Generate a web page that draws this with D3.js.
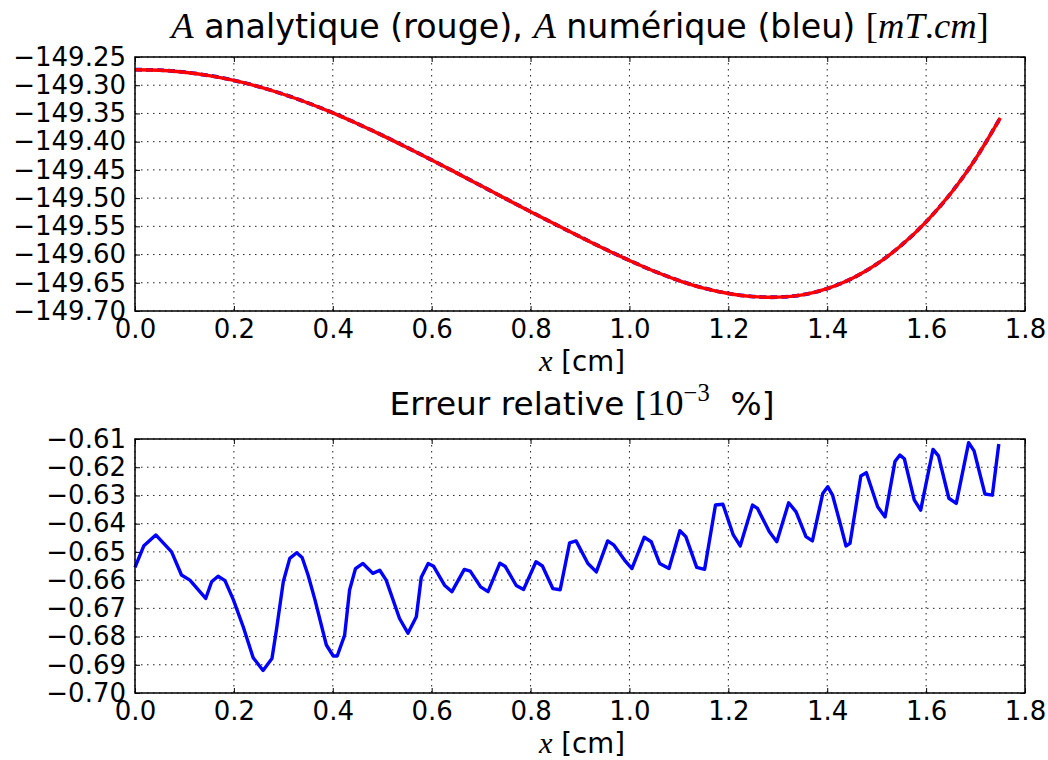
<!DOCTYPE html>
<html><head><meta charset="utf-8">
<script src="https://cdn.jsdelivr.net/npm/d3@7"></script>
<style>
body{margin:0;background:#fff}
svg{display:block}
text{font-family:"DejaVu Sans",sans-serif;fill:#000}
.m{font-family:"Liberation Serif","DejaVu Serif",serif}
.mi{font-family:"Liberation Serif","DejaVu Serif",serif;font-style:italic}
</style>
</head><body>
<svg id="c" width="1048" height="760"></svg>
<script>
// ---------- data ----------
const xTicks = [0.0,0.2,0.4,0.6,0.8,1.0,1.2,1.4,1.6,1.8];
const topYTicks = [-149.70,-149.65,-149.60,-149.55,-149.50,-149.45,-149.40,-149.35,-149.30,-149.25];
const botYTicks = [-0.70,-0.69,-0.68,-0.67,-0.66,-0.65,-0.64,-0.63,-0.62,-0.61];

// A(x) [mT.cm], analytic (red) and numeric (blue) coincide visually
const potX = [0.00,0.05,0.10,0.15,0.20,0.25,0.30,0.35,0.40,0.45,0.50,0.55,0.60,0.65,0.70,0.75,0.80,0.85,0.90,0.95,
              1.00,1.05,1.10,1.15,1.20,1.25,1.30,1.35,1.40,1.45,1.50,1.55,1.60,1.65,1.70,1.75];
const potAnalytic = [-149.2725,-149.2735,-149.2770,-149.2830,-149.2915,-149.3025,-149.3160,-149.3315,-149.3490,-149.3683,
              -149.3888,-149.4103,-149.4325,-149.4553,-149.4783,-149.5013,-149.5240,-149.5465,-149.5685,-149.5900,
              -149.6105,-149.6295,-149.6460,-149.6595,-149.6690,-149.6745,-149.6755,-149.6715,-149.6605,-149.6425,
              -149.6170,-149.5835,-149.5420,-149.4915,-149.4305,-149.3580];
const potNumeric = [-149.2724,-149.2734,-149.2769,-149.2829,-149.2914,-149.3024,-149.3159,-149.3314,-149.3489,-149.3682,
              -149.3887,-149.4102,-149.4324,-149.4552,-149.4782,-149.5012,-149.5239,-149.5464,-149.5684,-149.5899,
              -149.6104,-149.6294,-149.6459,-149.6594,-149.6689,-149.6744,-149.6754,-149.6714,-149.6604,-149.6424,
              -149.6169,-149.5834,-149.5419,-149.4914,-149.4304,-149.3579];

// relative error [1e-3 %]
const errX = [0.000,0.018,0.042,0.074,0.094,0.111,0.143,0.155,0.168,0.182,0.199,0.219,0.239,0.259,0.277,0.286,0.300,0.313,0.327,0.338,
              0.350,0.364,0.387,0.401,0.409,0.424,0.434,0.446,0.461,0.481,0.495,0.508,0.535,0.552,0.569,0.579,0.593,0.604,0.626,0.641,
              0.666,0.678,0.699,0.714,0.738,0.749,0.771,0.786,0.811,0.824,0.845,0.860,0.879,0.892,0.916,0.933,0.956,0.968,0.990,1.005,
              1.030,1.044,1.061,1.080,1.102,1.114,1.136,1.152,1.174,1.189,1.210,1.224,1.249,1.259,1.283,1.298,1.322,1.337,1.357,1.370,
              1.391,1.401,1.411,1.428,1.438,1.446,1.468,1.479,1.502,1.517,1.537,1.547,1.556,1.576,1.589,1.614,1.625,1.646,1.661,1.686,
              1.697,1.719,1.734,1.747];
const errY = [-0.6555,-0.6478,-0.6440,-0.6500,-0.6582,-0.6600,-0.6665,-0.6606,-0.6586,-0.6602,-0.6670,-0.6766,-0.6875,-0.6920,-0.6878,-0.6777,-0.6605,-0.6523,-0.6503,-0.6520,
              -0.6582,-0.6670,-0.6830,-0.6869,-0.6869,-0.6795,-0.6635,-0.6559,-0.6541,-0.6576,-0.6565,-0.6600,-0.6736,-0.6788,-0.6730,-0.6590,-0.6541,-0.6551,-0.6618,-0.6641,
              -0.6562,-0.6568,-0.6624,-0.6641,-0.6540,-0.6552,-0.6619,-0.6633,-0.6535,-0.6550,-0.6630,-0.6634,-0.6468,-0.6461,-0.6541,-0.6571,-0.6461,-0.6475,-0.6529,-0.6559,
              -0.6448,-0.6464,-0.6541,-0.6559,-0.6425,-0.6446,-0.6555,-0.6562,-0.6334,-0.6331,-0.6440,-0.6479,-0.6334,-0.6346,-0.6429,-0.6464,-0.6326,-0.6358,-0.6446,-0.6461,
              -0.6293,-0.6269,-0.6300,-0.6411,-0.6479,-0.6470,-0.6231,-0.6219,-0.6340,-0.6376,-0.6180,-0.6157,-0.6170,-0.6316,-0.6352,-0.6137,-0.6160,-0.6310,-0.6328,-0.6113,
              -0.6142,-0.6295,-0.6299,-0.6118];

// ---------- drawing ----------
const svg = d3.select("#c");
const L = 135, R = 1025;
const FS = 26;

function panel(top, bottom, yDomain, yTicks, yFmt) {
  const x = d3.scaleLinear().domain([0, 1.8]).range([L, R]);
  const y = d3.scaleLinear().domain(yDomain).range([bottom, top]);
  const g = svg.append("g");
  g.append("g").selectAll("line").data(xTicks).join("line")
    .attr("x1", d => x(d)).attr("x2", d => x(d)).attr("y1", top).attr("y2", bottom)
    .attr("stroke", "#222").attr("stroke-width", 1).attr("stroke-dasharray", "1.5,4.5");
  g.append("g").selectAll("line").data(yTicks).join("line")
    .attr("y1", d => y(d)).attr("y2", d => y(d)).attr("x1", L).attr("x2", R)
    .attr("stroke", "#222").attr("stroke-width", 1).attr("stroke-dasharray", "1.5,4.5");
  const ax = [
    g.append("g").attr("transform", `translate(0,${bottom})`)
      .call(d3.axisBottom(x).tickValues(xTicks).tickFormat(d3.format(".1f")).tickSize(-5).tickPadding(9)),
    g.append("g").attr("transform", `translate(0,${top})`)
      .call(d3.axisTop(x).tickValues(xTicks).tickFormat("").tickSize(-5)),
    g.append("g").attr("transform", `translate(${L},0)`)
      .call(d3.axisLeft(y).tickValues(yTicks).tickFormat(d3.format(yFmt)).tickSize(-5).tickPadding(9)),
    g.append("g").attr("transform", `translate(${R},0)`)
      .call(d3.axisRight(y).tickValues(yTicks).tickFormat("").tickSize(-5))
  ];
  ax.forEach(a => {
    a.select(".domain").remove();
    a.selectAll(".tick line").attr("stroke", "#000").attr("stroke-width", 1);
    a.selectAll(".tick text").attr("font-size", FS).attr("font-family", "DejaVu Sans").attr("fill", "#000");
  });
  ax[0].selectAll(".tick text").attr("dy", "0.71em");
  return {g, x, y};
}

// ---- top panel
const T = panel(57, 311, [-149.70, -149.25], topYTicks, ".2f");
const lineTop = d3.line().x(d => T.x(d[0])).y(d => T.y(d[1])).curve(d3.curveCatmullRom);
T.g.append("path").datum(d3.zip(potX, potNumeric)).attr("d", lineTop)
  .attr("fill", "none").attr("stroke", "#0000ff").attr("stroke-width", 3.8).attr("stroke-dasharray", "7,4");
T.g.append("path").datum(d3.zip(potX, potAnalytic)).attr("d", lineTop)
  .attr("fill", "none").attr("stroke", "#ff0000").attr("stroke-width", 3.4);
T.g.append("rect").attr("x", L).attr("y", 57).attr("width", R - L).attr("height", 311 - 57)
  .attr("fill", "none").attr("stroke", "#000").attr("stroke-width", 1.5);

// ---- bottom panel
const B = panel(439, 693, [-0.70, -0.61], botYTicks, ".2f");
const lineBot = d3.line().x(d => B.x(d[0])).y(d => B.y(d[1]));
B.g.append("path").datum(d3.zip(errX, errY)).attr("d", lineBot)
  .attr("fill", "none").attr("stroke", "#0000ff").attr("stroke-width", 3.4).attr("stroke-linejoin", "round");
B.g.append("rect").attr("x", L).attr("y", 439).attr("width", R - L).attr("height", 693 - 439)
  .attr("fill", "none").attr("stroke", "#000").attr("stroke-width", 1.5);

// ---- titles & labels (segments: text, class, relative size, dy)
function richText(cx, yb, segs, base, targetW) {
  const t = svg.append("text").attr("x", cx).attr("y", yb).attr("text-anchor", "middle")
    .attr("xml:space", "preserve");
  const spans = segs.map(s => t.append("tspan").attr("class", s.c || null).text(s.t));
  const apply = k => spans.forEach((sp, i) => {
    const s = segs[i];
    sp.attr("font-size", base * k * (s.r || 1));
    if (s.dy) sp.attr("dy", s.dy * base * k);
  });
  apply(1);
  const w = t.node().getBBox().width;
  if (targetW && w > 0) apply(targetW / w);
  return t;
}
const cx = 580;
richText(cx, 38, [
  {t: "A", c: "mi", r: 1.1}, {t: " analytique (rouge), "},
  {t: "A", c: "mi", r: 1.1}, {t: " numérique (bleu) "},
  {t: "[", c: "m", r: 1.1}, {t: "mT", c: "mi", r: 1.1}, {t: ".", c: "m", r: 1.1},
  {t: "cm", c: "mi", r: 1.1}, {t: "]", c: "m", r: 1.1}
], 30, 820);

richText(582, 415, [
  {t: "Erreur relative ["}, {t: "10", c: "m", r: 1.1},
  {t: "−3", c: "m", r: 0.75, dy: -0.42}, {t: "\u00a0\u00a0%]", dy: 0.42}
], 30, 385);

function xlabel(yb) {
  richText(582, yb, [{t: "x", c: "mi", r: 1.1}, {t: " [cm]"}], 26, 87);
}
xlabel(371);
xlabel(753);
</script>
</body></html>
